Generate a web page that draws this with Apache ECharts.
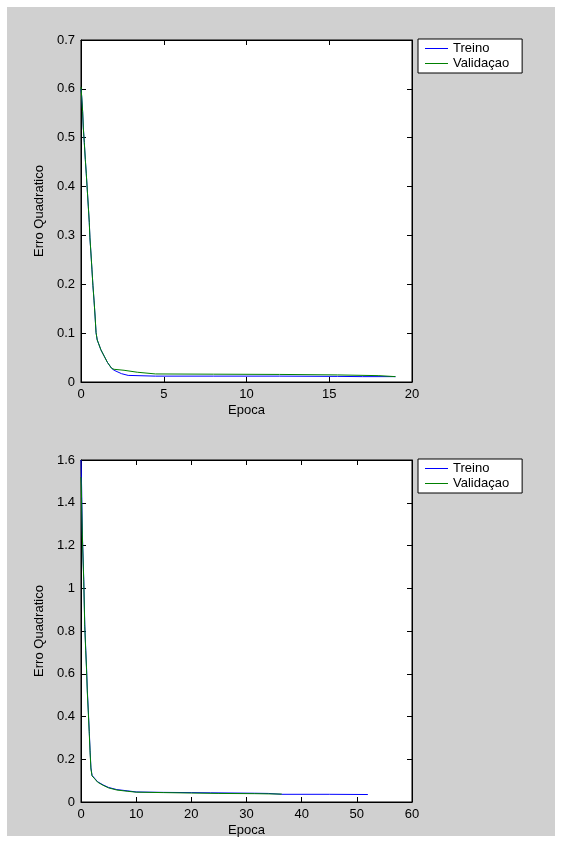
<!DOCTYPE html>
<html>
<head>
<meta charset="utf-8">
<script src="https://cdn.jsdelivr.net/npm/echarts@6/dist/echarts.min.js"></script>
<style>
html,body{margin:0;padding:0;background:#fff;}
#c{width:563px;height:844px;}
</style>
</head>
<body>
<div id="c"></div>
<script>
// ---- Plot 1 data ----
const epocaTreino1 = [0,0.04,0.1,0.14,0.2,0.26,0.32,0.38,0.44,0.5,0.54,0.6,0.66,0.72,0.79,0.85,0.91,0.98,1.07,1.2,1.4,1.6,1.85,2.0,2.45,2.85,4.5,8,12,15.5,17,19];
const erroTreino1 = [0.6,0.585,0.553,0.52,0.49,0.456,0.426,0.393,0.36,0.327,0.295,0.264,0.231,0.198,0.166,0.135,0.101,0.086,0.078,0.066,0.053,0.04,0.028,0.024,0.017,0.0135,0.012,0.012,0.012,0.0115,0.011,0.011];
const epocaValid1 = [0,0.04,0.1,0.14,0.2,0.26,0.32,0.38,0.44,0.5,0.54,0.6,0.66,0.72,0.79,0.85,0.91,0.98,1.07,1.2,1.4,1.6,1.85,2.0,2.6,3.4,4.5,8,12,15.5,18,19];
const erroValid1 = [0.604,0.585,0.553,0.52,0.49,0.456,0.426,0.393,0.36,0.327,0.295,0.264,0.231,0.198,0.166,0.135,0.101,0.086,0.078,0.066,0.053,0.04,0.028,0.026,0.024,0.02,0.0165,0.016,0.0155,0.0145,0.013,0.011];

// ---- Plot 2 data ----
const epocaTreino2 = [0,0.12,0.25,0.5,0.68,0.85,1.0,1.15,1.32,1.5,1.65,1.8,2.0,2.5,3.0,4.0,5.0,6.5,8.5,10,15,20,23.5,31.5,34,36.4,45,52];
const erroTreino2 = [1.6,1.46,1.25,1.04,0.83,0.72,0.63,0.52,0.43,0.33,0.24,0.16,0.125,0.11,0.095,0.08,0.068,0.058,0.052,0.047,0.045,0.044,0.043,0.041,0.040,0.036,0.036,0.035];
const epocaValid2 = [0,0.1,0.25,0.5,0.68,0.85,1.0,1.15,1.32,1.5,1.65,1.8,2.0,2.5,3.0,4.0,5.0,6.5,8.5,10,15,20,25,31.5,36.4];
const erroValid2 = [1.52,1.42,1.24,1.03,0.82,0.71,0.62,0.51,0.42,0.32,0.23,0.155,0.122,0.108,0.093,0.078,0.066,0.056,0.05,0.046,0.044,0.042,0.040,0.039,0.037];

const seriesNames = ['Treino','Validaçao'];
const xTitle = 'Epoca';
const yTitle = 'Erro Quadratico';

function pairs(xs, ys){ return xs.map((x,i)=>[x, ys[i]]); }

const FONT = 'Liberation Sans, Arial, sans-serif';
const axisBase = {
  axisLine:{show:true, onZero:false, lineStyle:{color:'#000', width:1}},
  axisTick:{show:true, inside:true, length:5, lineStyle:{color:'#000'}},
  splitLine:{show:false}
};
function mkX(gi, max, interval, pos, labels){
  return Object.assign({}, axisBase, {
    type:'value', gridIndex:gi, min:0, max:max, interval:interval, position:pos,
    name: labels ? xTitle : '', nameLocation:'middle', nameGap:22,
    nameTextStyle:{color:'#000', fontFamily:FONT, fontSize:13},
    axisLabel:{show:labels, color:'#000', fontFamily:FONT, fontSize:13, margin:6}
  });
}
function mkY(gi, max, interval, pos, labels){
  return Object.assign({}, axisBase, {
    type:'value', gridIndex:gi, min:0, max:max, interval:interval, position:pos,
    name: labels ? yTitle : '', nameLocation:'middle', nameGap:29,
    nameTextStyle:{color:'#000', fontFamily:FONT, fontSize:13},
    axisLabel:{show:labels, color:'#000', fontFamily:FONT, fontSize:13, margin:6,
      formatter: v => String(+v.toFixed(2))}
  });
}
function line(name, color, xi, yi, data, z){
  return {name:name, type:'line', xAxisIndex:xi, yAxisIndex:yi, data:data,
    showSymbol:false, symbol:'none', lineStyle:{color:color, width:1}, itemStyle:{color:color},
    z:z, animation:false};
}
function legend(top){
  return {
    orient:'vertical', left:418, top:top, data:seriesNames,
    backgroundColor:'#fff', borderColor:'#000', borderWidth:1, borderRadius:0,
    padding:[3,13,3,7], itemGap:2, itemWidth:23, itemHeight:1, itemTextGap:8,
    icon:'rect', selectedMode:false,
    textStyle:{color:'#000', fontFamily:FONT, fontSize:13}
  };
}

const chart = echarts.init(document.getElementById('c'), null, {renderer:'canvas'});
chart.setOption({
  backgroundColor:'#fff',
  animation:false,
  graphic:[{type:'rect', shape:{x:7, y:7, width:548, height:829}, style:{fill:'#d0d0d0'}, z:-10, silent:true}],
  grid:[
    {left:81, top:40, width:331, height:342, show:true, backgroundColor:'#fff', borderColor:'#000', borderWidth:1},
    {left:81, top:460, width:331, height:342, show:true, backgroundColor:'#fff', borderColor:'#000', borderWidth:1}
  ],
  xAxis:[
    mkX(0, 20, 5, 'bottom', true), mkX(0, 20, 5, 'top', false),
    mkX(1, 60, 10, 'bottom', true), mkX(1, 60, 10, 'top', false)
  ],
  yAxis:[
    mkY(0, 0.7, 0.1, 'left', true), mkY(0, 0.7, 0.1, 'right', false),
    mkY(1, 1.6, 0.2, 'left', true), mkY(1, 1.6, 0.2, 'right', false)
  ],
  legend:[legend(39), legend(459)],
  series:[
    line(seriesNames[0], '#0000ff', 0, 0, pairs(epocaTreino1, erroTreino1), 2),
    line(seriesNames[1], '#008000', 0, 0, pairs(epocaValid1, erroValid1), 3),
    line(seriesNames[0], '#0000ff', 2, 2, pairs(epocaTreino2, erroTreino2), 2),
    line(seriesNames[1], '#008000', 2, 2, pairs(epocaValid2, erroValid2), 3)
  ]
});
</script>
</body>
</html>
